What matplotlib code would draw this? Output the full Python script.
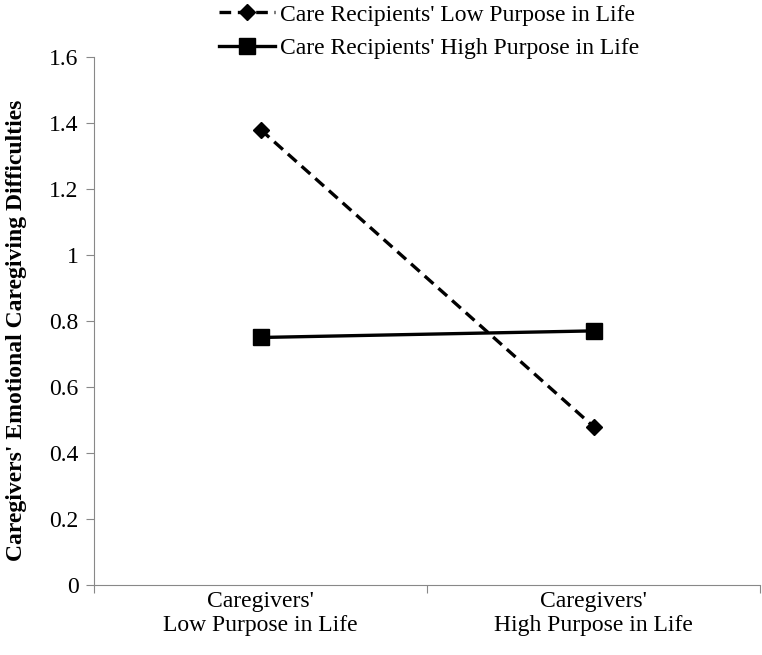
import numpy as np
import matplotlib.pyplot as plt

plt.rcParams['font.family'] = ['Liberation Serif', 'DejaVu Serif']

categories = ["Caregivers'\nLow Purpose in Life", "Caregivers'\nHigh Purpose in Life"]
low_cr = [1.38, 0.48]
high_cr = [0.75, 0.77]
series_names = ["Care Recipients' Low Purpose in Life", "Care Recipients' High Purpose in Life"]
yticks = [0, 0.2, 0.4, 0.6, 0.8, 1.0, 1.2, 1.4, 1.6]
ytick_labels = ['0', '0.2', '0.4', '0.6', '0.8', '1', '1.2', '1.4', '1.6']

fig = plt.figure(figsize=(7.62, 6.55), dpi=100)
ax = fig.add_axes([0.1234, 0.1069, 0.8740, 0.8061])

x = np.arange(len(categories))
ax.plot(x, low_cr, color='black', linestyle=(0, (3.5, 2)), linewidth=2.4,
        marker='D', markersize=8.5, label=series_names[0])
ax.plot(x, high_cr, color='black', linestyle='-', linewidth=2.4,
        marker='s', markersize=11.5, label=series_names[1])

ax.set_xlim(-0.5, 1.5)
ax.set_ylim(0, 1.6)
ax.set_yticks(yticks)
ax.set_yticklabels(ytick_labels, fontsize=17)
ax.set_xticks([-0.5, 0.5, 1.5])
ax.set_xticklabels([])
ax.set_xticks(x, minor=True)
ax.set_xticklabels(categories, minor=True, fontsize=17)
ax.tick_params(axis='x', which='minor', length=0, pad=4)
ax.tick_params(axis='x', which='major', length=6, color='#888888', direction='out')
ax.tick_params(axis='y', length=6, color='#888888', direction='out', pad=5)

for s in ['top', 'right']:
    ax.spines[s].set_visible(False)
for s in ['left', 'bottom']:
    ax.spines[s].set_color('#888888')

ax.set_ylabel("Caregivers' Emotional Caregiving Difficulties", fontsize=17,
              fontweight='bold')
ax.yaxis.set_label_coords(-0.1, 0.483)

ax.legend(loc='upper center', bbox_to_anchor=(0.503, 1.10), frameon=False,
          fontsize=17, handlelength=2.4, handletextpad=0.2, labelspacing=0.5,
          borderaxespad=0, borderpad=0)

plt.savefig('out.png', dpi=100)
